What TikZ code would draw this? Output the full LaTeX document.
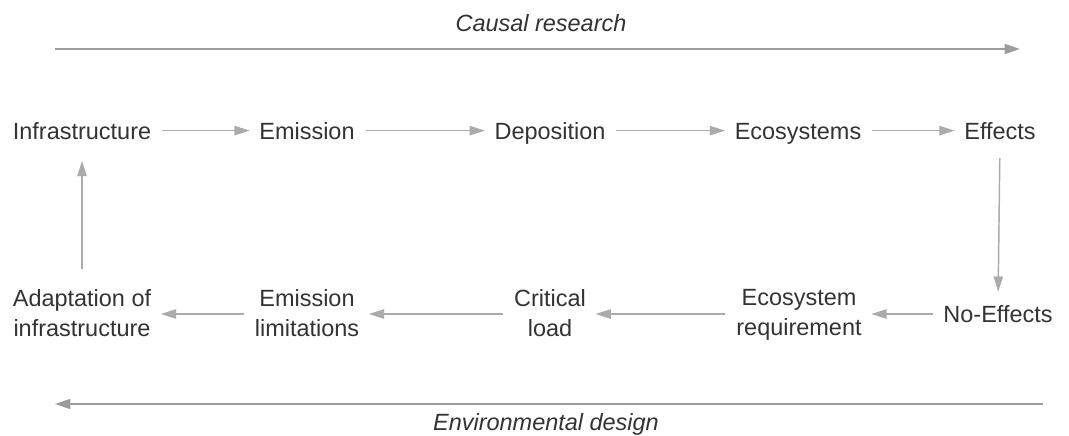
\documentclass[tikz,border=0pt]{standalone}
\usepackage{fontspec}
\setmainfont{Liberation Sans}
\usetikzlibrary{arrows.meta}
\definecolor{txtgray}{HTML}{333333}
\definecolor{flowgray}{HTML}{ABABAB}
\definecolor{axisgray}{HTML}{9C9C9C}
\begin{document}
\begin{tikzpicture}[x = 0.75pt, y = -0.75pt,
	stage/.style = {text = txtgray, font = \fontsize{17.6}{22.5}\selectfont, align = center, inner sep = 0pt},
	axislabel/.style = {text = txtgray, font = \fontsize{17.6}{22.5}\selectfont\itshape, inner sep = 0pt, anchor = base},
	flow/.style = {draw = flowgray, line width = 1.1pt, -{Triangle[length = 11.5pt, width = 7pt]}, shorten <= 8pt, shorten >= 7pt},
	axis/.style = {draw = axisgray, line width = 1.5pt, -{Triangle[length = 11.5pt, width = 7.5pt]}}]
	\useasboundingbox (0, 0) rectangle (1069, 435);
	
	% causal chain
	\node[stage, anchor = base] (infra) at (82, 139) {Infrastructure};
	\node[stage, anchor = base] (emis) at (307, 139) {Emission};
	\node[stage, anchor = base] (depo) at (550, 139) {Deposition};
	\node[stage, anchor = base] (eco) at (798, 139) {Ecosystems};
	\node[stage, anchor = base] (eff) at (1000, 139) {Effects};
	
	% design chain
	\node[stage] (noeff) at (998, 314) {No-Effects};
	\node[stage] (ecoreq) at (799, 315) {Ecosystem\\requirement};
	\node[stage] (crit) at (550, 313) {Critical\\load};
	\node[stage] (emlim) at (307, 313) {Emission\\limitations};
	\node[stage] (adapt) at (82, 313) {Adaptation of\\infrastructure};
	
	\draw[flow] (infra.east) -- (emis.west |- infra.east);
	\draw[flow] (emis.east |- infra.east) -- (depo.west |- infra.east);
	\draw[flow] (depo.east |- infra.east) -- (eco.west |- infra.east);
	\draw[flow] (eco.east |- infra.east) -- (eff.west |- infra.east);
	\draw[flow, shorten <= 14pt, shorten >= 10pt] (eff.south) -- (noeff.north);
	\draw[flow] (noeff.west) -- (ecoreq.east |- noeff.west);
	\draw[flow] (ecoreq.west |- noeff.west) -- (crit.east |- noeff.west);
	\draw[flow] (crit.west |- noeff.west) -- (emlim.east |- noeff.west);
	\draw[flow] (emlim.west |- noeff.west) -- (adapt.east |- noeff.west);
	\draw[flow, shorten <= 15pt, shorten >= 16pt] (adapt.north) -- (infra.south);
	
	% long arrows
	\coordinate (cr start) at (55, 49);
	\coordinate (cr end) at (1020, 49);
	\coordinate (ed start) at (1043, 404);
	\coordinate (ed end) at (55, 404);
	\draw[axis] (cr start) -- (cr end);
	\draw[axis] (ed start) -- (ed end);
	\node[axislabel] (causal) at (541, 32) {Causal research};
	\node[axislabel] (design) at (546, 430) {Environmental design};
\end{tikzpicture}
\end{document}
